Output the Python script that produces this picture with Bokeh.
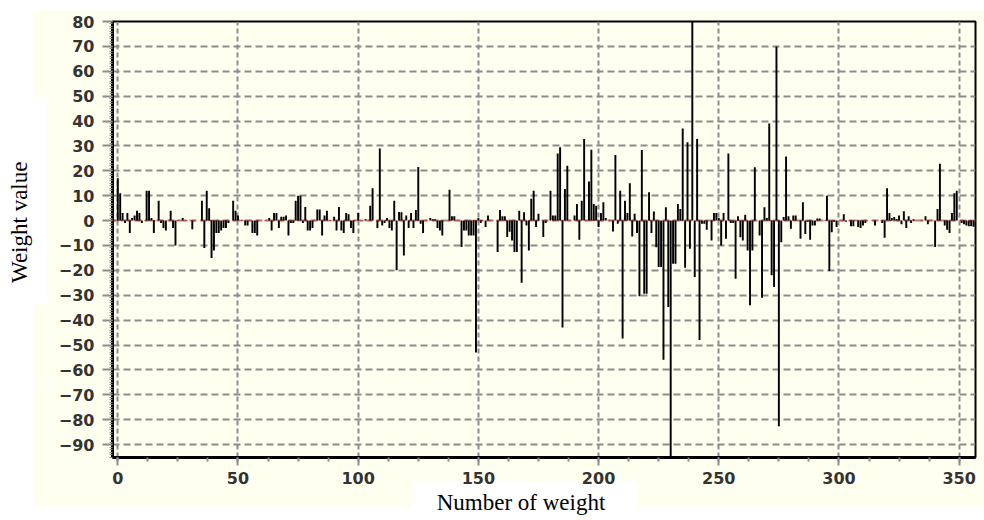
from bokeh.plotting import figure
from bokeh.models import Range1d, SingleIntervalTicker, Span
from bokeh.embed import file_html
from bokeh.resources import INLINE

# ---- data (weight value per weight number) ----
weights_000_057 = [17, 11, 3, -1, 3, -5, 1, 2, 4, 3,
                   -1, 0, 12, 12, 1, -5, 0, 8, -1, -3,
                   -4, 0, 4, -3, -10, 0, 0, 1, 0, 0,
                   0, -3.5, 0, 0, 0, 8, -11, 12, 5, -15,
                   -12, -5, -5, -4, -3, -3, -1, 0, 8, 4,
                   2, 0, 0, -2, -2, 0, -5, -5]
weights_058_117 = [-6, 0, 0, 0, 0, 1, -4, 3, 3, -3,
                   1.5, 1.5, 2, -6, -1, -1, 8, 10, 10, -1,
                   5.5, -4, -4, -3, 0, 4.5, 4.5, -6, 2, 4,
                   0, 0, 1.5, -4, 5.5, -4, -5, 3, 2.5, -3,
                   -5, 0, 3, 0, 0, 0.5, 0, 6, 13, 0,
                   -3, 29, -2, -1, 1, -3, -4, 8, -20, 3.5]
weights_118_177 = [3.4, -14, 2, -3, 3, -3, 4.3, 21.5, -1.3, -5,
                   0, 0, 1, 0.5, 0.5, -3, -4, -6, 0, 0,
                   12.4, 1.7, 1.7, 0, 0, -10.6, -4, -4, -6, -6,
                   -6, -53, 1, -1, 0, -2.6, 2, 0, 0, 0,
                   -12.6, 4.3, 1.7, 1.7, -6.6, -4.5, -8, -12.6, -12.6, 4,
                   -25, 3.4, -2, -12, 8.8, 12, -2.6, 2.7, 0, -6.6]
weights_178_237 = [-1, 0, 12, 2, 2, 27, 29.5, -43, 12.7, 22,
                   0, 0, 2, 6.7, -7.7, 8, 32.8, 0, 15.7, 28.5,
                   6.7, 6, -2.6, 3, 7.4, 1, 0, 0, -4.4, 26.4,
                   -1.3, 12, -47.4, 8, 3, 15, -6.4, 2.7, -5, -30.4,
                   28.4, -29.4, -29.4, 11.4, -5, 3.7, -10.7, -18.7, -18.7, -55.9,
                   5.4, -34.7, -100, -17.3, -17.3, 6.7, 4.7, 37, -19, 31.5]
weights_238_297 = [-11.3, 90, -22.7, 32.8, -48, -1.3, -1.3, -3.7, 0, -8,
                   3, 3, 1, -10, 3, -7.3, 27, -1, -1, -23.4,
                   1.7, -6.7, -8, 2.3, -12, -34, -12, 21.4, 0, -6,
                   -31, 5.4, 1, 39, -22, -26.7, 70, -82.6, -8.7, 1.4,
                   25.8, 1.7, -3.3, 2, 2, 0, -7.3, 7.4, -5.4, -0.5,
                   -7.7, -2, -2, 0.8, 0.8, 0, 0, 10, -20.3, -4.7]
weights_298_356 = [-0.5, -2.6, 0, 0, 2.5, -0.5, 0, -2.3, -2.3, 0,
                   -2.6, -3, -2, -1, 0, 0, 0, -2, 0, 0,
                   -1, -6.9, 13, 3, 1, 1.4, 0.5, 2, -1.5, 3.8,
                   -3, 1.7, -1, 0.5, 0, 0, 0, 0, 1.7, -1.5,
                   0, 0, -10.6, 4.7, 22.8, 0, -2, -3.7, -5, 3,
                   11, 12, 0, -1, -1.5, -2, -2.3, -2.3, -2.5]

weights = (weights_000_057 + weights_058_117 + weights_118_177 +
           weights_178_237 + weights_238_297 + weights_298_356)
weight_number = list(range(len(weights)))

x_ticks = [0, 50, 100, 150, 200, 250, 300, 350]
x_tick_labels = ["0", "50", "100", "150", "200", "250", "300", "350"]
y_ticks = [-90, -80, -70, -60, -50, -40, -30, -20, -10, 0, 10, 20, 30, 40, 50, 60, 70, 80]
y_tick_labels = ["\u221290", "\u221280", "\u221270", "\u221260", "\u221250", "\u221240",
                 "\u221230", "\u221220", "\u221210", "0", "10", "20", "30", "40",
                 "50", "60", "70", "80"]
x_title = "Number of weight"
y_title = "Weight value"

# ---- styles ----
CREAM = "#FFFFF0"
GRID = "#8c8c8c"
W, H = 984, 520
BL, BR, BT, BB = 112, 9, 21, 63   # borders around the frame
NBSP = "\u00a0"

p = figure(width=W, height=H, x_range=Range1d(-2.2, 356.8), y_range=Range1d(-95.2, 80),
           output_backend="svg", toolbar_location=None,
           min_border_left=BL, min_border_right=BR, min_border_top=BT, min_border_bottom=BB,
           border_fill_color=None, background_fill_color=CREAM,
           outline_line_color="black", outline_line_width=2)

# page background: white with a cream panel and white boxes behind the axis titles
p.styles = {
    "background": (
        "linear-gradient(#ffffff,#ffffff) 0px 97px / 47px 206px no-repeat, "
        "linear-gradient(#ffffff,#ffffff) 413px 482px / 224px 38px no-repeat, "
        f"linear-gradient({CREAM},{CREAM}) 33px 10px / 951px 498px no-repeat, "
        "#ffffff"
    )
}

xt = SingleIntervalTicker(interval=50, num_minor_ticks=4)
yt = SingleIntervalTicker(interval=10, num_minor_ticks=10)
p.xaxis.ticker = xt
p.xgrid.ticker = xt
p.yaxis.ticker = yt
p.ygrid.ticker = yt
p.xaxis.major_label_overrides = dict(zip(x_ticks, x_tick_labels))
p.yaxis.major_label_overrides = dict(zip(y_ticks, y_tick_labels))

p.xgrid.grid_line_color = GRID
p.xgrid.grid_line_width = 2
p.xgrid.grid_line_dash = "5 3"
p.ygrid.grid_line_color = GRID
p.ygrid.grid_line_width = 2
p.ygrid.grid_line_dash = "7 4"

for ax in (p.xaxis, p.yaxis):
    ax.axis_line_color = "black"
    ax.axis_line_width = 3
    ax.major_tick_line_color = GRID
    ax.major_tick_line_width = 2
    ax.major_tick_in = 0
    ax.minor_tick_line_color = GRID
    ax.minor_tick_in = 0
    ax.major_label_text_font = "DejaVu Sans"
    ax.major_label_text_font_style = "bold"
    ax.major_label_text_font_size = "16px"
    ax.major_label_text_color = "#333333"
    ax.axis_label_text_font = "Liberation Serif"
    ax.axis_label_text_font_size = "23px"
    ax.axis_label_text_font_style = "normal"
    ax.axis_label_text_color = "black"
p.xaxis.major_tick_out = 8
p.xaxis.minor_tick_out = 4
p.xaxis.minor_tick_line_width = 2
p.xaxis.major_label_standoff = 6
p.yaxis.major_tick_out = 10
p.yaxis.minor_tick_out = 3
p.yaxis.minor_tick_line_width = 1
p.yaxis.major_label_standoff = 8

# titles: padded with no-break spaces so that they sit where the reference has them
p.xaxis.axis_label = x_title + NBSP * 8
p.xaxis.axis_label_standoff = 3
p.yaxis.axis_label = NBSP * 6 + y_title
p.yaxis.axis_label_standoff = 24

# red zero line
p.add_layout(Span(location=0, dimension="width", line_color="#e8392b", line_width=1.5,
                  line_dash="3 5", level="underlay"))

# bars
p.vbar(x=weight_number, top=weights, bottom=0, width=0.8,
       fill_color="black", line_color=None)

open("out.html", "w").write(file_html(p, INLINE))
